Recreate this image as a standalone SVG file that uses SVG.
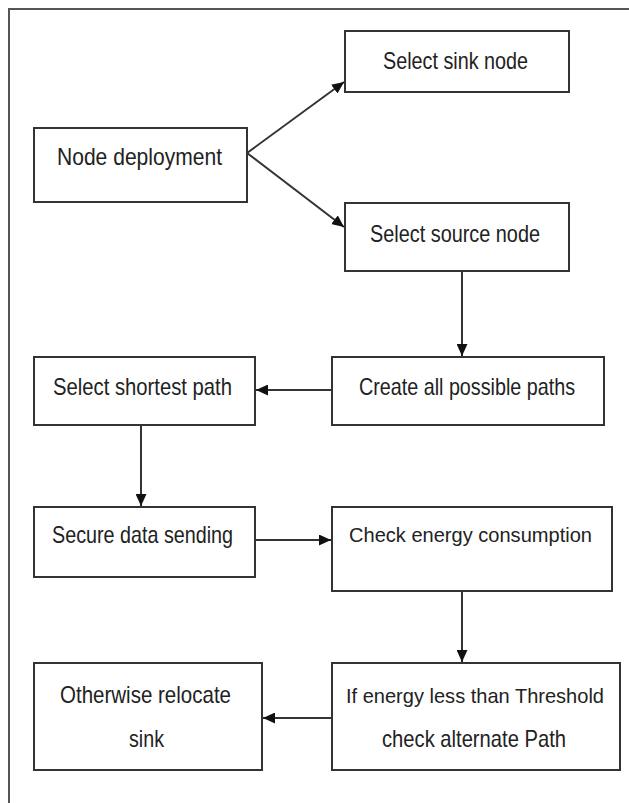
<svg xmlns="http://www.w3.org/2000/svg" width="629" height="803" viewBox="0 0 629 803">
<style>
.box{fill:#fff;stroke:#333;stroke-width:2}
.lbl{font-family:"Liberation Sans",Arial,sans-serif;font-size:24px;fill:#222}
.sm{font-size:21px;text-anchor:middle}
.conn{stroke:#333;stroke-width:2;fill:none;marker-end:url(#ah)}
.frame{stroke:#555;stroke-width:2;fill:none}
</style>
<defs>
<marker id="ah" markerUnits="userSpaceOnUse" markerWidth="13" markerHeight="11" refX="12" refY="5.5" orient="auto">
<path d="M0,0 L12,5.5 L0,11 z" fill="#111"/>
</marker>
</defs>
<rect width="629" height="803" fill="#fff"/>
<path class="frame" d="M9,803 V9 H629"/>
<g id="connectors">
<line class="conn" x1="247" y1="153" x2="344" y2="82"/>
<line class="conn" x1="247" y1="153" x2="344" y2="227"/>
<line class="conn" x1="462" y1="271" x2="462" y2="356"/>
<line class="conn" x1="332" y1="390" x2="256" y2="390"/>
<line class="conn" x1="141" y1="425" x2="141" y2="506"/>
<line class="conn" x1="255" y1="540" x2="331" y2="540"/>
<line class="conn" x1="462" y1="591" x2="462" y2="662"/>
<line class="conn" x1="332" y1="718" x2="263" y2="718"/>
</g>
<g id="node-deployment">
<rect class="box" x="34" y="128" width="213" height="74"/>
<text class="lbl" x="57" y="165" textLength="165" lengthAdjust="spacingAndGlyphs">Node deployment</text>
</g>
<g id="select-sink">
<rect class="box" x="345" y="31" width="224" height="61"/>
<text class="lbl" x="383" y="69" textLength="145" lengthAdjust="spacingAndGlyphs">Select sink node</text>
</g>
<g id="select-source">
<rect class="box" x="345" y="203" width="224" height="68"/>
<text class="lbl" x="370" y="242" textLength="170" lengthAdjust="spacingAndGlyphs">Select source node</text>
</g>
<g id="create-paths">
<rect class="box" x="332" y="357" width="272" height="68"/>
<text class="lbl" x="359" y="395" textLength="216" lengthAdjust="spacingAndGlyphs">Create all possible paths</text>
</g>
<g id="shortest-path">
<rect class="box" x="34" y="357" width="221" height="68"/>
<text class="lbl" x="53" y="395" textLength="179" lengthAdjust="spacingAndGlyphs">Select shortest path</text>
</g>
<g id="secure-sending">
<rect class="box" x="34" y="507" width="221" height="70"/>
<text class="lbl" x="52" y="543" textLength="181" lengthAdjust="spacingAndGlyphs">Secure data sending</text>
</g>
<g id="check-energy">
<rect class="box" x="332" y="507" width="280" height="84"/>
<text class="lbl sm" x="470.5" y="542" textLength="243" lengthAdjust="spacingAndGlyphs">Check energy consumption</text>
</g>
<g id="threshold">
<rect class="box" x="332" y="663" width="288" height="107"/>
<text class="lbl sm" x="475" y="703" textLength="258" lengthAdjust="spacingAndGlyphs">If energy less than Threshold</text>
<text class="lbl" x="382" y="747" textLength="184" lengthAdjust="spacingAndGlyphs">check alternate Path</text>
</g>
<g id="relocate-sink">
<rect class="box" x="34" y="663" width="228" height="107"/>
<text class="lbl" x="60" y="703" textLength="171" lengthAdjust="spacingAndGlyphs">Otherwise relocate</text>
<text class="lbl" x="129" y="747" textLength="35" lengthAdjust="spacingAndGlyphs">sink</text>
</g>
</svg>
